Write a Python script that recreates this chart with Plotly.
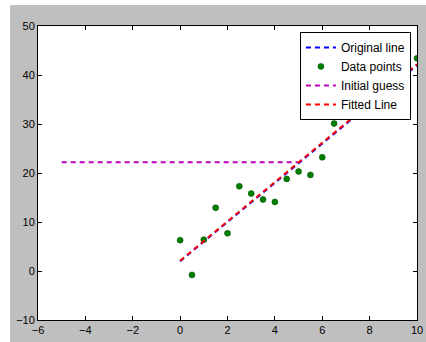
import plotly.graph_objects as go

# Data
x_data = [0, 0.5, 1, 1.5, 2, 2.5, 3, 3.5, 4, 4.5, 5, 5.5, 6, 6.5, 7, 7.5, 8, 8.5, 9, 9.5, 10]
y_data = [6.3, -0.8, 6.4, 12.9, 7.7, 17.3, 15.8, 14.6, 14.1, 18.8, 20.3, 19.6, 23.2, 30.1,
          34.5, 35.5, 32.2, 38.0, 37.5, 41.0, 43.4]

x_line = [0, 10]
y_original = [2.0, 42.0]
y_fitted = [2.1, 42.2]

x_guess = [-5, 5]
y_guess = [22.2, 22.2]

x_ticks = [-6, -4, -2, 0, 2, 4, 6, 8, 10]
y_ticks = [-10, 0, 10, 20, 30, 40, 50]

dash = "5px,4px"

fig = go.Figure()
fig.add_trace(go.Scatter(x=x_line, y=y_original, mode="lines", name="Original line",
                         line=dict(color="#0000ff", width=2, dash=dash)))
fig.add_trace(go.Scatter(x=x_data, y=y_data, mode="markers", name="Data points",
                         marker=dict(color="#008000", size=6, line=dict(color="#004000", width=0.5))))
fig.add_trace(go.Scatter(x=x_guess, y=y_guess, mode="lines", name="Initial guess",
                         line=dict(color="#bf00bf", width=2, dash=dash)))
fig.add_trace(go.Scatter(x=x_line, y=y_fitted, mode="lines", name="Fitted Line",
                         line=dict(color="#ff0000", width=2, dash=dash)))

axis_common = dict(showgrid=False, zeroline=False, showline=True, linecolor="black", linewidth=1,
                   mirror="ticks", ticks="inside", ticklen=4, tickcolor="black", automargin=False,
                   tickfont=dict(family="Liberation Sans, Arial, sans-serif", size=11, color="black"))

fig.update_xaxes(range=[-6, 10], tickvals=x_ticks, **axis_common)
fig.update_yaxes(range=[-10, 50], tickvals=y_ticks, **axis_common)

fig.update_layout(
    template="none",
    width=416, height=337,
    margin=dict(l=28, r=9, t=21, b=22, autoexpand=False),
    paper_bgcolor="#bfbfbf",
    plot_bgcolor="white",
    showlegend=True,
    legend=dict(x=0.984, y=0.98, xanchor="right", yanchor="top",
                bgcolor="white", bordercolor="black", borderwidth=1,
                font=dict(family="Liberation Sans, Arial, sans-serif", size=12, color="black"),
                itemwidth=30),
)

fig.write_html(
    "out.html",
    post_script="document.body.style.margin='5px 0 0 10px';document.body.style.overflow='hidden';",
)
